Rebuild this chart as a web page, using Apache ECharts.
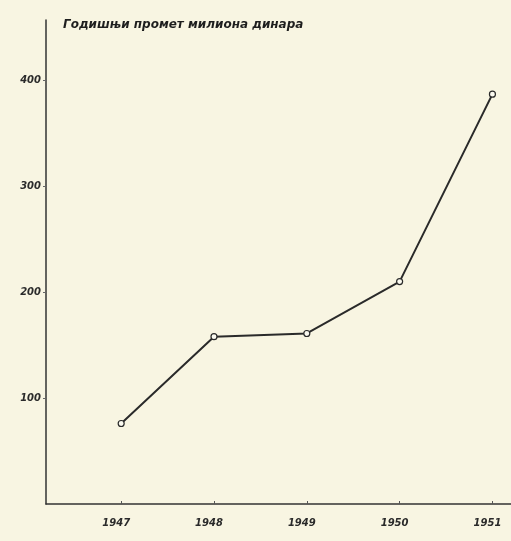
<html>
<head>
    <meta charset="utf-8">
    <title>Годишњи промет</title>
    <script src="https://cdn.jsdelivr.net/npm/echarts@6/dist/echarts.min.js"></script>
    <style>
        html, body { margin: 0; padding: 0; background: #f8f5e2; }
    </style>
</head>
<body>
    <div id="main" style="width: 511px;height:541px"></div>
    <script>
        // подаци очитани са слике
        var years = [1947, 1948, 1949, 1950, 1951];
        var promet = [76, 158, 161, 210, 387];
        var yTicks = [100, 200, 300, 400];

        var myChart = echarts.init(document.getElementById('main'));

        var data = [];
        for (var i = 0; i < years.length; i++) {
            data.push([years[i], promet[i]]);
        }

        var labelFont = {
            color: '#2a2a2a',
            fontFamily: 'DejaVu Sans',
            fontStyle: 'italic',
            fontWeight: 'bold',
            fontSize: 10
        };

        var option = {
            backgroundColor: '#f8f5e2',
            title: {
                text: 'Годишњи промет милиона динара',
                left: 58,
                top: 14,
                textStyle: {
                    color: '#1e1e1e',
                    fontFamily: 'DejaVu Sans',
                    fontStyle: 'italic',
                    fontWeight: 'bold',
                    fontSize: 12
                }
            },
            grid: {
                left: 46,
                right: 0,
                top: 20,
                bottom: 37
            },
            xAxis: {
                type: 'value',
                min: 1946.19,
                max: 1951.2,
                splitLine: { show: false },
                axisLine: { lineStyle: { color: '#333', width: 1.5 } },
                axisTick: {
                    customValues: years,
                    length: 3,
                    inside: true,
                    lineStyle: { color: '#555' }
                },
                axisLabel: Object.assign({
                    customValues: years,
                    margin: 14,
                    padding: [0, 10, 0, 0],
                    formatter: function (v) { return String(v); }
                }, labelFont)
            },
            yAxis: {
                type: 'value',
                min: 0,
                max: 457,
                splitLine: { show: false },
                axisLine: { show: true, lineStyle: { color: '#333', width: 1.5 } },
                axisTick: {
                    show: true,
                    customValues: yTicks,
                    length: 3,
                    lineStyle: { color: '#666' }
                },
                axisLabel: Object.assign({
                    customValues: yTicks,
                    margin: 5
                }, labelFont)
            },
            series: [
                {
                    type: 'line',
                    data: data,
                    symbol: 'circle',
                    symbolSize: 6,
                    itemStyle: {
                        color: '#fbfaf0',
                        borderColor: '#2a2a2a',
                        borderWidth: 1.2
                    },
                    lineStyle: {
                        color: '#2a2a2a',
                        width: 2
                    },
                    animation: false
                }
            ]
        };
        myChart.setOption(option);
    </script>
</body>
</html>
